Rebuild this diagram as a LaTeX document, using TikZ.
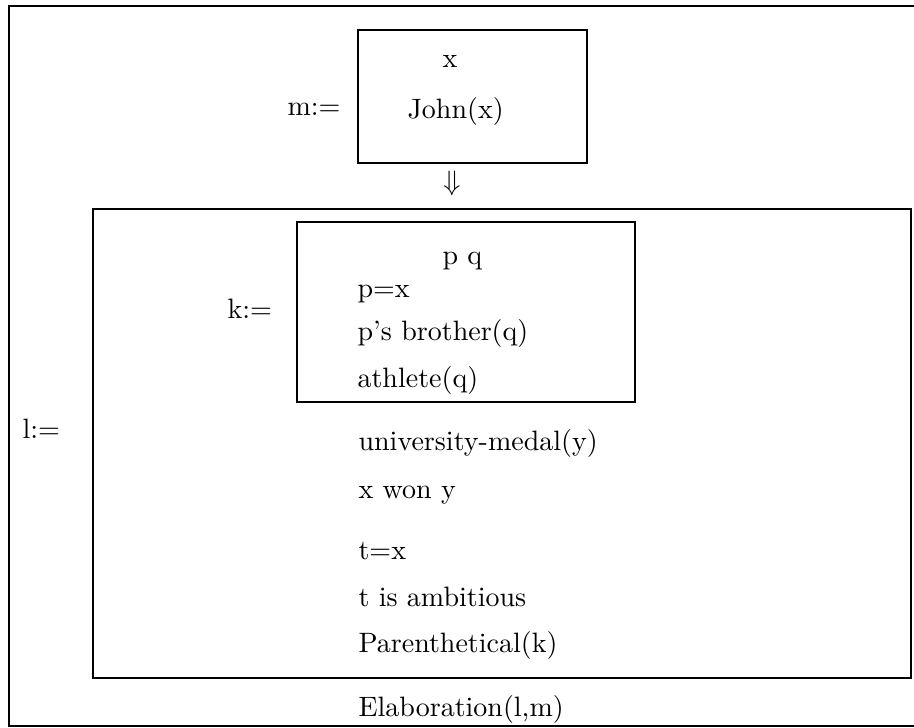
\documentclass[tikz,border=0pt]{standalone}

\begin{document}
\begin{tikzpicture}[x=0.357pt,y=-0.357pt,
    drsbox/.style={draw,line width=1pt},
    cond/.style={anchor=base west,inner sep=0pt}]

    \useasboundingbox (0,0) rectangle (914,727);

    % outer box l (its right side runs off the page)
    \draw[drsbox] (9,6) rectangle (925,726);
    \node[cond] (l) at (22,438) {l:=};

    % box m
    \draw[drsbox,line width=0.9pt] (358,30) rectangle (587,163);
    \node[cond] (m) at (287,115) {m:=};
    \node[cond] (mref) at (442,67) {x};
    \node[cond] (mjohn) at (407,118) {John(x)};
    \node[anchor=base,inner sep=0pt] (elab) at (452,190) {$\Downarrow$};

    % box around k
    \draw[drsbox] (93,209) rectangle (911,678);

    % box k
    \draw[drsbox,line width=0.9pt] (297,222) rectangle (635,402);
    \node[cond] (k) at (227,318) {k:=};
    \node[cond] (kref) at (442,264) {p\ q};
    \node[cond] (k1) at (357,297) {p=x};
    \node[cond] (k2) at (357,340) {p's brother(q)};
    \node[cond] (k3) at (357,387) {athlete(q)};

    \node[cond] (c1) at (358,450) {university-medal(y)};
    \node[cond] (c2) at (358,498) {x won y};
    \node[cond] (c3) at (358,559) {t=x};
    \node[cond] (c4) at (358,606) {t is ambitious};
    \node[cond] (c5) at (358,652) {Parenthetical(k)};

    \node[cond] (rel) at (358,716) {Elaboration(l,m)};

\end{tikzpicture}
\end{document}
